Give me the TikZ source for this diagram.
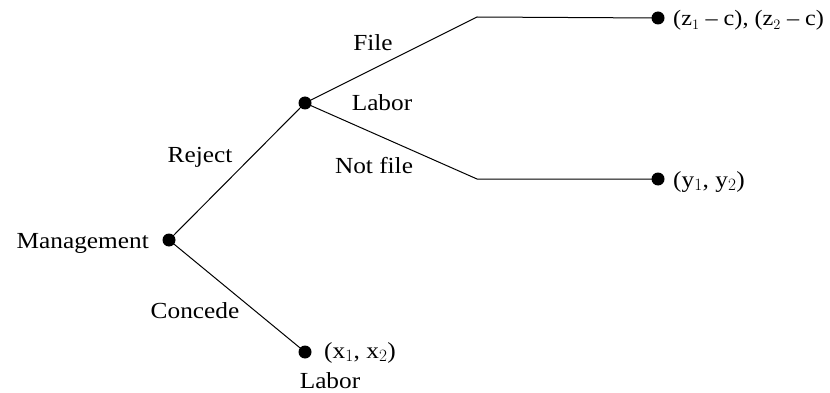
\documentclass[tikz,border=0pt]{standalone}
\usepackage{fontspec}
\setmainfont{Liberation Serif}[FakeStretch=1.1]
\begin{document}
\begin{tikzpicture}[x=1pt,y=-1pt,
  dot/.style={circle,fill=black,inner sep=0pt,minimum size=13pt},
  lbl/.style={font=\fontsize{23}{27}\selectfont,inner sep=0pt,anchor=base},
  edge/.style={line width=1pt}]
\useasboundingbox (0,0) rectangle (830,393);
\node[dot] (M) at (169,240) {};
\node[dot] (L) at (305,103) {};
\node[dot] (C) at (305,352) {};
\coordinate (F) at (477,17);
\node[dot] (Z) at (658,18) {};
\coordinate (N) at (477,179);
\node[dot] (Y) at (658,179) {};
\draw[edge] (M.center) -- (L.center);
\draw[edge] (M.center) -- (C.center);
\draw[edge] (L.center) -- (F) -- (Z.center);
\draw[edge] (L.center) -- (N) -- (Y.center);
\node[lbl,anchor=base east] (tM) at (149,248) {Management};
\node[lbl] (tR) at (200,163) {Reject};
\node[lbl] (tCo) at (195,318) {Concede};
\node[lbl] (tL1) at (382,111) {Labor};
\node[lbl] (tL2) at (330,388) {Labor};
\node[lbl] (tF) at (373,51) {File};
\node[lbl] (tN) at (374,174) {Not file};
\node[lbl,anchor=base west,font=\fontsize{22}{26}\selectfont] (tZ) at (673,26) {(z$_1$ \textendash{} c), (z$_2$ \textendash{} c)};
\node[lbl,anchor=base west] (tY) at (673,187) {(y$_1$, y$_2$)};
\node[lbl,anchor=base west] (tX) at (324,358) {(x$_1$, x$_2$)};
\end{tikzpicture}
\end{document}
